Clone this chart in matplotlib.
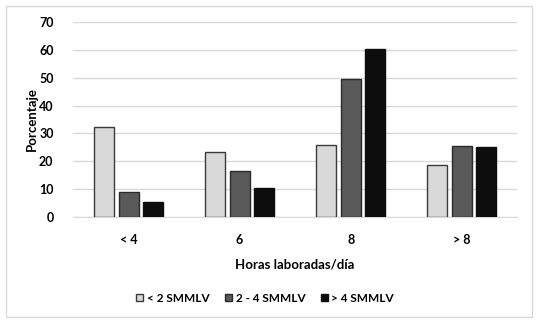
import matplotlib
matplotlib.use("Agg")
import matplotlib.pyplot as plt
from matplotlib.patches import Rectangle
import numpy as np

plt.rcParams["font.family"] = ["Lato", "DejaVu Sans"]
plt.rcParams["font.weight"] = "bold"
plt.rcParams["axes.labelweight"] = "bold"

categories = ["< 4", "6", "8", "> 8"]
series_names = ["< 2 SMMLV", "2 - 4 SMMLV", "> 4 SMMLV"]
low_income = [32.3, 23.4, 25.8, 18.7]
mid_income = [9.0, 16.6, 49.5, 25.5]
high_income = [5.5, 10.3, 60.2, 25.1]
y_ticks = [0, 10, 20, 30, 40, 50, 60, 70]

fills = ["#d9d9d9", "#595959", "#0d0d0d"]
edges = ["#3a3a3a", "#2a2a2a", "#0d0d0d"]

fig = plt.figure(figsize=(5.41, 3.24), dpi=100)
ax = fig.add_axes([0.135, 0.330, 0.821, 0.602])

# marco exterior
fig.patches.append(Rectangle((6 / 541, 1 - 317 / 324), 526 / 541, 311 / 324,
                             transform=fig.transFigure, fill=False,
                             edgecolor="#d9d9d9", lw=1))

x = np.arange(len(categories))
w = 0.18
off = 0.22
for i, vals in enumerate([low_income, mid_income, high_income]):
    ax.bar(x + (i - 1) * off, vals, width=w, color=fills[i],
           edgecolor=edges[i], lw=1, label=series_names[i], zorder=3)

ax.set_xlim(-0.5, len(categories) - 0.5)
ax.set_ylim(0, 70)
ax.set_yticks(y_ticks)
ax.set_xticks(x)
ax.set_xticklabels(categories)
ax.yaxis.grid(True, color="#d9d9d9", lw=1, zorder=0)
ax.set_axisbelow(True)
for s in ["top", "right", "left"]:
    ax.spines[s].set_visible(False)
ax.spines["bottom"].set_color("#d9d9d9")
ax.tick_params(length=0, labelsize=9)
ax.tick_params(axis="x", pad=12)
ax.tick_params(axis="y", pad=14)
ax.set_ylabel("Porcentaje", fontsize=9.5, labelpad=1)
ax.set_xlabel("Horas laboradas/día", fontsize=9.5, labelpad=9)

leg = fig.legend(loc="center", bbox_to_anchor=(0.49, 1 - 298 / 324), ncol=3,
                 frameon=False, fontsize=8.5, handlelength=0.6, handleheight=0.6,
                 handletextpad=0.3, columnspacing=1.3)

fig.savefig("out.png", dpi=100)
